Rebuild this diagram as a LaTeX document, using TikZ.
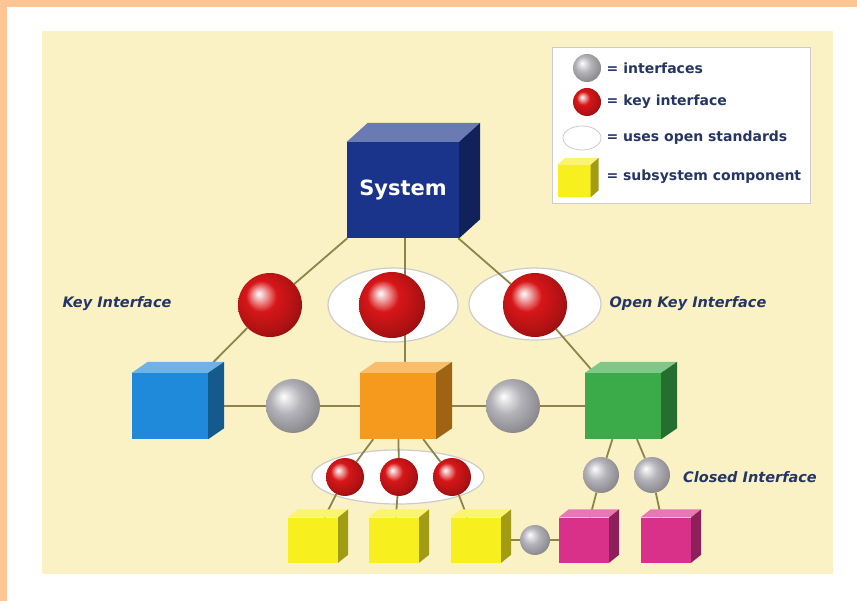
\documentclass[tikz,border=0pt]{standalone}
\usepackage{fontspec}
\setmainfont{DejaVu Sans}
\usepackage{tikz}
\usetikzlibrary{shapes.geometric, positioning, calc}

\definecolor{paper}{RGB}{250,242,196}
\definecolor{framecol}{RGB}{253,197,147}
\definecolor{wirecol}{RGB}{140,132,72}
\definecolor{inkblue}{RGB}{38,54,100}
\definecolor{keyred}{RGB}{215,22,24}
\definecolor{ifgrey}{RGB}{178,178,184}
\definecolor{sysblue}{RGB}{26,52,140}
\definecolor{skyblue}{RGB}{31,138,217}
\definecolor{orangebox}{RGB}{245,154,28}
\definecolor{greenbox}{RGB}{59,170,72}
\definecolor{yellowbox}{RGB}{247,240,30}
\definecolor{pinkbox}{RGB}{217,48,138}

% sphere shadings, highlight up left
\pgfdeclareradialshading{redsphere}{\pgfpoint{-9bp}{9bp}}{%
  color(0bp)=(white); color(3bp)=(keyred!25!white); color(12bp)=(keyred);
  color(26bp)=(keyred!80!black); color(36bp)=(keyred!55!black); color(50bp)=(keyred!50!black)}
\pgfdeclareradialshading{greysphere}{\pgfpoint{-9bp}{9bp}}{%
  color(0bp)=(white); color(4bp)=(ifgrey!30!white); color(14bp)=(ifgrey);
  color(27bp)=(ifgrey!80!black); color(38bp)=(ifgrey!60!black); color(50bp)=(ifgrey!55!black)}

% top and side face of a cube drawn behind-right of its front node
\newcommand{\cubefaces}[4]{%
  \fill[#4!65!white] (#1.north west) -- ++(#2,#3) -- ($(#1.north east)+(#2,#3)$) -- (#1.north east) -- cycle;
  \fill[#4!65!black] (#1.north east) -- ++(#2,#3) -- ($(#1.south east)+(#2,#3)$) -- (#1.south east) -- cycle;
}

\pgfdeclarelayer{panel}
\pgfdeclarelayer{wires}
\pgfsetlayers{panel,wires,main}

\begin{document}
\begin{tikzpicture}[
    x=1pt, y=-1pt,
    font=\bfseries,
    % Styles for the blocks
    bigcube/.style={rectangle, inner sep=0pt, fill=#1, minimum width=76pt, minimum height=66pt},
    smallcube/.style={rectangle, inner sep=0pt, fill=#1, minimum width=50pt, minimum height=45pt},
    keyball/.style={circle, inner sep=0pt, minimum size=#1, shading=redsphere},
    keyball/.default=64pt,
    ifball/.style={circle, inner sep=0pt, minimum size=#1, shading=greysphere},
    ifball/.default=54pt,
    openring/.style={ellipse, fill=white, draw=gray!40, line width=1.2pt, inner sep=0pt},
    wire/.style={draw=wirecol, line width=1.8pt},
    tagtext/.style={text=inkblue, font=\bfseries\itshape\fontsize{14.5}{17}\selectfont},
    keytext/.style={text=inkblue, font=\bfseries\fontsize{14}{16}\selectfont}
  ]
  \useasboundingbox (0,0) rectangle (857,601);

  % --- 1. FRAME AND PANEL ---
  \begin{pgfonlayer}{panel}
    \fill[white] (0,0) rectangle (857,601);
    \fill[framecol] (0,0) rectangle (857,7);
    \fill[framecol] (0,0) rectangle (7,601);
    \fill[paper] (42,31) rectangle (833,574);

    % open standard rings
    \node[openring, minimum width=130pt, minimum height=74pt] (ringM) at (393,305) {};
    \node[openring, minimum width=132pt, minimum height=72pt] (ringR) at (535,304) {};
    \node[openring, minimum width=172pt, minimum height=54pt] (ringB) at (398,477) {};
  \end{pgfonlayer}

  % --- 2. CUBES ---
  \node[rectangle, inner sep=0pt, fill=sysblue, minimum width=112pt, minimum height=96pt,
        text=white, font=\bfseries\fontsize{21}{26}\selectfont] (sys) at (403,190) {System};
  \cubefaces{sys}{21}{-19}{sysblue}

  \node[bigcube=skyblue] (blue) at (170,406) {};
  \cubefaces{blue}{16}{-11}{skyblue}
  \node[bigcube=orangebox] (orange) at (398,406) {};
  \cubefaces{orange}{16}{-11}{orangebox}
  \node[bigcube=greenbox] (green) at (623,406) {};
  \cubefaces{green}{16}{-11}{greenbox}

  \node[smallcube=yellowbox] (y1) at (313,540) {};
  \cubefaces{y1}{10}{-8}{yellowbox}
  \node[smallcube=yellowbox] (y2) at (394,540) {};
  \cubefaces{y2}{10}{-8}{yellowbox}
  \node[smallcube=yellowbox] (y3) at (476,540) {};
  \cubefaces{y3}{10}{-8}{yellowbox}
  \node[smallcube=pinkbox] (p1) at (584,540) {};
  \cubefaces{p1}{10}{-8}{pinkbox}
  \node[smallcube=pinkbox] (p2) at (666,540) {};
  \cubefaces{p2}{10}{-8}{pinkbox}

  % --- 3. INTERFACES ---
  \node[keyball] (kL) at (270,305) {};
  \node[keyball=66pt] (kM) at (392,305) {};
  \node[keyball] (kR) at (535,305) {};

  \node[ifball] (gL) at (293,406) {};
  \node[ifball] (gR) at (513,406) {};

  \node[keyball=38pt] (k1) at (345,477) {};
  \node[keyball=38pt] (k2) at (399,477) {};
  \node[keyball=38pt] (k3) at (452,477) {};

  \node[ifball=36pt] (c1) at (601,475) {};
  \node[ifball=36pt] (c2) at (652,475) {};
  \node[ifball=30pt] (c3) at (535,540) {};

  % --- 4. CONNECTORS ---
  \begin{pgfonlayer}{wires}
    \draw[wire] (sys) -- (kL) -- (blue);
    \draw[wire] (sys.south) ++(2,0) -- ($(sys.south |- orange.north)+(2,-6)$);
    \draw[wire] (sys) -- (kR) -- (green);
    \draw[wire] (blue) -- (gL) -- (orange) -- (gR) -- (green);
    \draw[wire] (orange) -- (k1) -- (y1);
    \draw[wire] (orange) -- (k2) -- (y2);
    \draw[wire] (orange) -- (k3) -- (y3);
    \draw[wire] (green) -- (c1) -- (p1);
    \draw[wire] (green) -- (c2) -- (p2);
    \draw[wire] (y3) -- (c3) -- (p1);
  \end{pgfonlayer}

  % --- 5. LABELS ---
  \node[tagtext] (tagKey) at (117,304) {Key Interface};
  \node[tagtext] (tagOpen) at (688,304) {Open Key Interface};
  \node[tagtext] (tagClosed) at (750,477) {Closed Interface};

  % --- 6. LEGEND ---
  \node[rectangle, fill=white, draw=gray!40, line width=0.8pt, minimum width=258pt, minimum height=156pt] (legend) at (681,125) {};
  \node[ifball=28pt] (lgrey) at (587,68) {};
  \node[keytext, right=2pt of lgrey] (lgreyText) {= interfaces};
  \node[keyball=28pt] (lred) at (587,102) {};
  \node[keytext, right=2pt of lred] (lredText) {= key interface};
  \node[openring, line width=0.8pt, minimum width=38pt, minimum height=24pt] (lring) at (582,138) {};
  \node[keytext, anchor=west] (lringText) at (603,138) {= uses open standards};
  \node[smallcube=yellowbox, minimum width=33pt, minimum height=32pt] (lcube) at (574,181) {};
  \cubefaces{lcube}{8}{-7}{yellowbox}
  \node[keytext, anchor=west] (lcubeText) at (603,177) {= subsystem component};

\end{tikzpicture}
\end{document}
